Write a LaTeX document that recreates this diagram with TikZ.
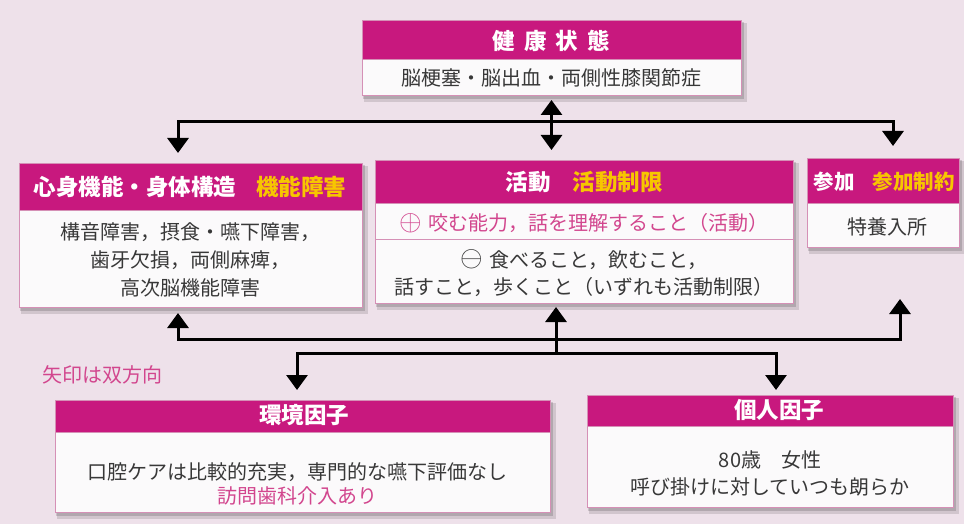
\documentclass[tikz,border=0pt]{standalone}
\usepackage{fontspec}
\setmainfont{Noto Sans CJK JP}
\usetikzlibrary{arrows.meta,backgrounds,calc}
\definecolor{bgc}{HTML}{EEE1EA}
\definecolor{mag}{HTML}{C8187E}
\definecolor{ylw}{HTML}{F7C600}
\definecolor{txt}{HTML}{383838}
\definecolor{pnk}{HTML}{D2468E}
\definecolor{bdr}{HTML}{D590B6}
\definecolor{boxw}{HTML}{FBFAFB}
\newcommand{\bigsym}[1]{\raisebox{0.3pt}{\scalebox{1.4}{$#1$}}\hspace{2pt}}
\begin{document}
\begin{tikzpicture}[x=1pt,y=-1pt,
  hdr/.style={fill=mag, draw=bdr, line width=0.6pt, anchor=north west, inner sep=0pt, outer sep=0pt},
  bodyb/.style={fill=boxw, draw=bdr, line width=0.6pt, anchor=north west, inner sep=0pt, outer sep=0pt},
  htext/.style={text=white, font=\bfseries\fontsize{22.5}{26}\selectfont, inner sep=0pt},
  btext/.style={text=txt, font=\fontsize{20}{28}\selectfont, align=center, inner sep=0pt},
  ptext/.style={btext, text=pnk},
  arr/.style={line width=3pt, -{Triangle[width=21pt,length=15pt]}},
  darr/.style={line width=3pt, {Triangle[width=21pt,length=15pt]}-{Triangle[width=21pt,length=15pt]}},
]
\useasboundingbox (0,0) rectangle (964,524);
% boxes
\node[hdr, minimum width=379pt, minimum height=39pt] (hT) at (362,20) {};
\node[bodyb, minimum width=379pt, minimum height=36pt] (bT) at (362,59) {};
\node[hdr, minimum width=343pt, minimum height=47pt] (hL) at (19,163) {};
\node[bodyb, minimum width=343pt, minimum height=97pt] (bL) at (19,210) {};
\node[hdr, minimum width=418pt, minimum height=43pt] (hM) at (375,160) {};
\node[bodyb, minimum width=418pt, minimum height=36pt] (pM) at (375,203) {};
\node[bodyb, minimum width=418pt, minimum height=64pt] (bM) at (375,239) {};
\node[hdr, minimum width=152pt, minimum height=45pt] (hR) at (807,158) {};
\node[bodyb, minimum width=152pt, minimum height=44pt] (bR) at (807,203) {};
\node[hdr, minimum width=495pt, minimum height=32pt] (hBL) at (55,400) {};
\node[bodyb, minimum width=495pt, minimum height=80pt] (bBL) at (55,432) {};
\node[hdr, minimum width=366pt, minimum height=31pt] (hBR) at (587,395) {};
\node[bodyb, minimum width=366pt, minimum height=81pt] (bBR) at (587,426) {};
\begin{scope}[on background layer]
  \fill[bgc] (0,0) rectangle (964,524);
  \foreach \n in {T,L,M,R,BL,BR}{
    \fill[black, opacity=0.12] ($(h\n.north west)+(2,3)$) rectangle ($(b\n.south east)+(6,7)$);
    \fill[black, opacity=0.15] ($(h\n.north west)+(1,2)$) rectangle ($(b\n.south east)+(3,4)$);
  }
\end{scope}
% texts
\node[htext] (tT) at (551,41) {健\hspace{9pt}康\hspace{9pt}状\hspace{9pt}態};
\node[btext] (tT2) at (551,78) {脳梗塞・脳出血・両側性膝関節症};
\node[htext] (tL) at (190,187) {心身機能・身体構造\hspace{20pt}\textcolor{ylw}{機能障害}};
\node[btext] (tL2) at (190,260) {構音障害，摂食・嚥下障害，\\歯牙欠損，両側麻痺，\\高次脳機能障害};
\node[htext] (tM) at (584,182) {活動\hspace{22pt}\textcolor{ylw}{活動制限}};
\node[ptext] (tM2) at (584,223) {\bigsym{\oplus} 咬む能力，話を理解すること（活動）};
\node[btext, font=\fontsize{20}{27}\selectfont] (tM3) at (584,273) {\bigsym{\ominus} 食べること，飲むこと，\\話すこと，歩くこと（いずれも活動制限）};
\node[htext, font=\bfseries\fontsize{20.5}{24}\selectfont] (tR) at (884,182) {参加\hspace{18pt}\textcolor{ylw}{参加制約}};
\node[btext] (tR2) at (887,227) {特養入所};
\node[htext] (tBL) at (304,415) {環境因子};
\node[btext, font=\fontsize{20}{24}\selectfont] (tBL2) at (297,484) {口腔ケアは比較的充実，専門的な嚥下評価なし\\\textcolor{pnk}{訪問歯科介入あり}};
\node[htext] (tBR) at (779,410) {個人因子};
\node[btext, font=\fontsize{20}{27}\selectfont] (tBR2) at (770,473) {80歳\hspace{20pt}女性\\呼び掛けに対していつも朗らか};
\node[ptext] (note) at (102,375) {矢印は双方向};
% connectors
\coordinate (xL) at (178,0);
\coordinate (xR) at (893,0);
\coordinate (yT) at (0,122);
\coordinate (xR2) at (900,0);
\coordinate (yB1) at (0,339);
\coordinate (pR) at (900,299);
\coordinate (xM) at (556,0);
\coordinate (yB2) at (0,353);
\coordinate (xBL) at (297,0);
\coordinate (xBR) at (776,0);
\draw[darr, shorten <=5pt, shorten >=10pt] (bT.south) -- (bT.south |- hM.north);
\draw[darr, shorten <=10pt, shorten >=12pt] (hL.north -| xL) -- (xL |- yT) -- (xR |- yT) -- (hR.north -| xR);
\draw[darr, shorten <=6pt] (bL.south -| xL) -- (xL |- yB1) -- (xR2 |- yB1) -- (pR);
\draw[arr, shorten >=4pt] (xM |- yB2) -- (bM.south -| xM);
\draw[darr, shorten <=10pt, shorten >=5pt] (hBL.north -| xBL) -- (xBL |- yB2) -- (xBR |- yB2) -- (hBR.north -| xBR);
\end{tikzpicture}
\end{document}
